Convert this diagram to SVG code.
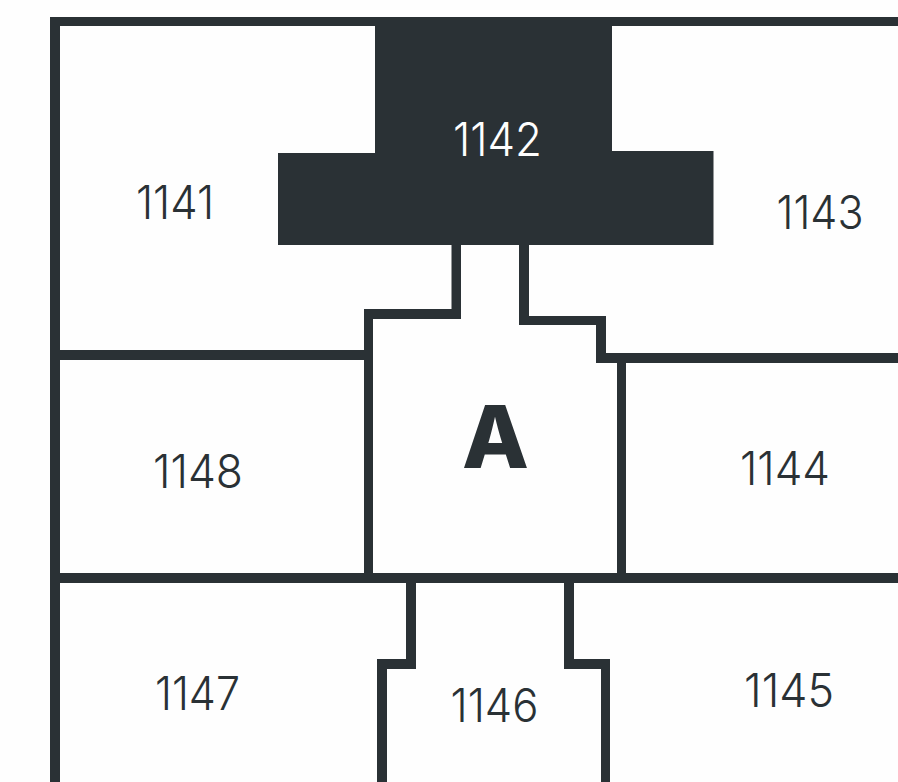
<svg xmlns="http://www.w3.org/2000/svg" width="898" height="782" viewBox="0 0 898 782">
<style>
.w{fill:#2a3135}
.t{font-family:"Inter","Liberation Sans",sans-serif;font-weight:300;font-size:47px;fill:#2a3135;text-anchor:middle}
.l{fill:#fefefe}
.a{font-family:"Inter","Liberation Sans",sans-serif;font-weight:800;font-size:87px;fill:#2a3135;text-anchor:middle}
</style>
<rect width="898" height="782" fill="#fefefe"/>
<g id="walls">
<path class="w" d="M50 17H898V26H60V350H364V309H451.500V245H461V319H373V573H617V363H596V325H519V245H529V316H606V353H898V363H626V573H898V583H574V659H610V782H601V669H564V583H416V669H387V782H377V659H406V583H60V782H50ZM60 360V573H364V360Z" fill-rule="evenodd"/>
</g>
<g id="room-1142">
<path class="w" d="M375 17H612V151H713.500V245H278V153H375Z"/>
<text class="t l" x="497.500" y="155.500" textLength="89" lengthAdjust="spacingAndGlyphs">1142</text>
</g>
<g id="room-1141"><text class="t" x="175" y="218.500" textLength="78" lengthAdjust="spacingAndGlyphs">1141</text></g>
<g id="room-1143"><text class="t" x="820" y="228.500" textLength="87" lengthAdjust="spacingAndGlyphs">1143</text></g>
<g id="room-1148"><text class="t" x="198" y="488" textLength="90" lengthAdjust="spacingAndGlyphs">1148</text></g>
<g id="room-a"><text class="a" x="495.500" y="468">A</text></g>
<g id="room-1144"><text class="t" x="785" y="485" textLength="90" lengthAdjust="spacingAndGlyphs">1144</text></g>
<g id="room-1147"><text class="t" x="197.500" y="710" textLength="85" lengthAdjust="spacingAndGlyphs">1147</text></g>
<g id="room-1146"><text class="t" x="494.500" y="722" textLength="88" lengthAdjust="spacingAndGlyphs">1146</text></g>
<g id="room-1145"><text class="t" x="789" y="707" textLength="90" lengthAdjust="spacingAndGlyphs">1145</text></g>
</svg>
